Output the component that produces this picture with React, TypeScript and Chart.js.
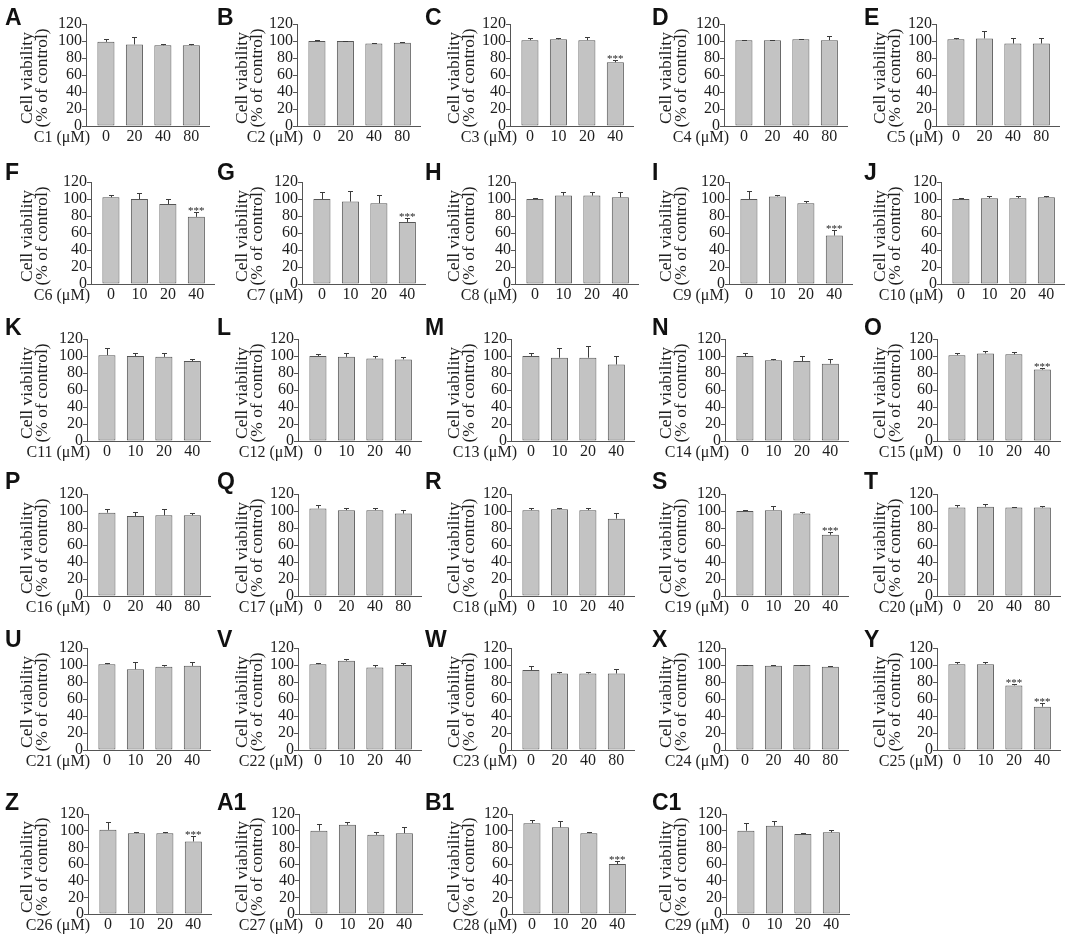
import React, { useEffect, useRef } from "react";
import { Chart, registerables } from "chart.js";

Chart.register(...registerables);

// ---------------- data ----------------
const panelLetters = ["A", "B", "C", "D", "E", "F", "G", "H", "I", "J", "K", "L", "M", "N", "O", "P", "Q", "R", "S", "T", "U", "V", "W", "X", "Y", "Z", "A1", "B1", "C1"];
const compoundNames = ["C1", "C2", "C3", "C4", "C5", "C6", "C7", "C8", "C9", "C10", "C11", "C12", "C13", "C14", "C15", "C16", "C17", "C18", "C19", "C20", "C21", "C22", "C23", "C24", "C25", "C26", "C27", "C28", "C29"];
const dosesA = ["0", "20", "40", "80"];
const dosesB = ["0", "10", "20", "40"];
const doseLabels = [
  dosesA, dosesA, dosesB, dosesA, dosesA,
  dosesB, dosesB, dosesB, dosesB, dosesB,
  dosesB, dosesB, dosesB, dosesB, dosesB,
  dosesA, dosesA, dosesB, dosesB, dosesA,
  dosesB, dosesB, dosesA, dosesA, dosesB,
  dosesB, dosesB, dosesB, dosesB,
];
const meanViability = [
  [99, 96, 95, 95],
  [100, 100, 97, 98],
  [101, 102, 101, 75],
  [101, 101, 102, 101],
  [102, 103, 97, 97],
  [102, 100, 94, 79],
  [100, 97, 95, 73],
  [100, 104, 104, 102],
  [100, 103, 95, 57],
  [100, 101, 101, 102],
  [101, 100, 99, 94],
  [100, 99, 97, 96],
  [100, 98, 98, 90],
  [100, 95, 94, 91],
  [101, 103, 102, 84],
  [98, 94, 95, 95],
  [103, 101, 101, 97],
  [101, 102, 101, 91],
  [100, 101, 97, 72],
  [104, 105, 104, 104],
  [101, 95, 98, 99],
  [101, 105, 97, 100],
  [94, 90, 90, 90],
  [100, 99, 100, 98],
  [101, 101, 76, 51],
  [101, 97, 97, 87],
  [100, 107, 95, 97],
  [109, 104, 97, 60],
  [100, 106, 96, 98],
];
const sdViability = [
  [3, 9, 2, 2],
  [0.6, 0.4, 0.6, 0.8],
  [3, 1, 4, 3],
  [0.6, 0.6, 0.3, 5],
  [1, 9, 7, 6],
  [3, 7, 6, 6],
  [8, 12, 10, 5],
  [1, 4, 4, 6],
  [9, 2, 3, 6],
  [1, 2, 2, 2],
  [9, 4, 5, 3],
  [2, 5, 3, 3],
  [3, 11, 14, 10],
  [3, 1, 6, 6],
  [3, 3, 3, 2],
  [4, 5, 7, 3],
  [4, 3, 3, 4],
  [2, 2, 3, 7],
  [1, 5, 2, 3],
  [3, 3, 1, 2],
  [1, 9, 2, 5],
  [1, 2, 3, 2],
  [5, 2, 2, 5],
  [0.5, 0.5, 0.5, 0.5],
  [2, 2, 1.5, 4],
  [9, 1, 1, 7],
  [8, 3, 3, 7],
  [4, 7, 2, 4],
  [9, 5, 1.5, 3],
];
const significance = [
  ["", "", "", ""], ["", "", "", ""], ["", "", "", "***"], ["", "", "", ""], ["", "", "", ""],
  ["", "", "", "***"], ["", "", "", "***"], ["", "", "", ""], ["", "", "", "***"], ["", "", "", ""],
  ["", "", "", ""], ["", "", "", ""], ["", "", "", ""], ["", "", "", ""], ["", "", "", "***"],
  ["", "", "", ""], ["", "", "", ""], ["", "", "", ""], ["", "", "", "***"], ["", "", "", ""],
  ["", "", "", ""], ["", "", "", ""], ["", "", "", ""], ["", "", "", ""], ["", "", "***", "***"],
  ["", "", "", "***"], ["", "", "", ""], ["", "", "", "***"], ["", "", "", ""],
];
const yTickValues = [0, 20, 40, 60, 80, 100, 120];
const yAxisTitle = ["Cell viability", "(% of control)"];
const doseUnit = "(μM)";

// ---------------- layout ----------------
const SERIF = '"Liberation Serif", "Times New Roman", serif';
const SANS = '"Liberation Sans", Arial, sans-serif';
const TEXT = "#1e1e1e";
const AXIS = "#555555";

const colAxisX = [86, 297, 510, 724, 936];
const rowShiftX = [0, 5, 1, 1, 1, 2];
const rowTopY = [24, 182, 339, 494, 648, 814];
const rowPlotH = [102, 102, 102, 102, 102, 100];
const colLetterX = [5, 217, 425, 652, 864];
const rowLetterTop = [8, 163, 318, 472, 630, 793];
const colTitleX = [27.5, 242.5, 454, 666, 880.5];
const colXTitleRight = [90, 303, 517, 729, 943];
const PLOT_W = 123;
const PAD_L = 100;
const PAD_T = 32;
const PAD_R = 8;
const PAD_B = 30;

function Panel({ idx }: { idx: number }) {
  const ref = useRef<HTMLCanvasElement | null>(null);
  const col = idx % 5;
  const row = Math.floor(idx / 5);
  const axisX = colAxisX[col] + rowShiftX[row];
  const plotH = rowPlotH[row];
  const left = axisX - PAD_L;
  const top = rowTopY[row] - PAD_T;
  const width = PAD_L + PLOT_W + PAD_R;
  const height = PAD_T + plotH + PAD_B;

  useEffect(() => {
    const canvas = ref.current;
    if (!canvas) return;
    const means = meanViability[idx];
    const sds = sdViability[idx];
    const stars = significance[idx];
    const labels = doseLabels[idx];

    const decor = {
      id: "decor",
      afterDatasetsDraw(chart: any) {
        const ctx = chart.ctx;
        const ys = chart.scales.y;
        const meta = chart.getDatasetMeta(0);
        ctx.save();
        ctx.strokeStyle = "#3c3c3c";
        ctx.lineWidth = 1;
        meta.data.forEach((bar: any, i: number) => {
          const yTop = Math.round(ys.getPixelForValue(means[i] + sds[i])) + 0.5;
          const x = Math.round(bar.x) + 0.5;
          ctx.beginPath();
          ctx.moveTo(x, bar.y);
          ctx.lineTo(x, yTop);
          ctx.moveTo(x - 2.5, yTop);
          ctx.lineTo(x + 2.5, yTop);
          ctx.stroke();
          if (stars[i]) {
            ctx.fillStyle = TEXT;
            ctx.font = `11px ${SERIF}`;
            ctx.textAlign = "center";
            ctx.textBaseline = "alphabetic";
            ctx.fillText(stars[i], bar.x, yTop + 1);
          }
        });
        ctx.restore();
      },
      afterDraw(chart: any) {
        const ctx = chart.ctx;
        const area = chart.chartArea;
        ctx.save();
        ctx.fillStyle = "#111111";
        ctx.font = `bold 23px ${SANS}`;
        ctx.textAlign = "left";
        ctx.textBaseline = "alphabetic";
        ctx.fillText(panelLetters[idx], colLetterX[col] - left, rowLetterTop[row] - top + 16.5);
        ctx.fillStyle = TEXT;
        ctx.font = `17.5px ${SERIF}`;
        ctx.textAlign = "center";
        ctx.textBaseline = "middle";
        const cy = (area.top + area.bottom) / 2 + 3;
        yAxisTitle.forEach((t, i) => {
          ctx.save();
          ctx.translate(colTitleX[col] + i * 15 - left, cy);
          ctx.rotate(-Math.PI / 2);
          ctx.fillText(t, 0, 0);
          ctx.restore();
        });
        ctx.font = `16px ${SERIF}`;
        ctx.textAlign = "right";
        ctx.textBaseline = "alphabetic";
        ctx.fillText(`${compoundNames[idx]} ${doseUnit}`, colXTitleRight[col] - left, area.bottom + 16);
        ctx.restore();
      },
    };

    const chart = new Chart(canvas, {
      type: "bar",
      data: {
        datasets: [
          {
            data: means.map((v, i) => ({ x: i, y: v })),
            backgroundColor: "#c3c3c3",
            borderColor: "#565656",
            borderWidth: 1,
            borderSkipped: false,
            barPercentage: 0.6,
            categoryPercentage: 1,
          },
        ],
      },
      options: {
        responsive: false,
        animation: false,
        devicePixelRatio: 1,
        events: [],
        layout: { padding: { top: PAD_T, left: 0, right: PAD_R, bottom: 0 } },
        plugins: { legend: { display: false }, tooltip: { enabled: false }, title: { display: false } },
        scales: {
          x: {
            type: "linear",
            offset: false,
            min: -0.7,
            max: 3.62,
            afterBuildTicks: (s: any) => {
              s.ticks = labels.map((_, i) => ({ value: i }));
            },
            afterFit: (s: any) => {
              s.height = PAD_B;
            },
            ticks: {
              callback: (v: any) => labels[v] ?? "",
              autoSkip: false,
              maxRotation: 0,
              minRotation: 0,
              padding: 1,
              color: TEXT,
              font: { family: SERIF, size: 16 },
            },
            grid: { display: true, offset: false, drawOnChartArea: false, drawTicks: false },
            border: { display: true, color: AXIS, width: 1 },
          },
          y: {
            min: 0,
            max: 120,
            afterBuildTicks: (s: any) => {
              s.ticks = yTickValues.map((v) => ({ value: v }));
            },
            afterFit: (s: any) => {
              s.width = PAD_L;
            },
            ticks: {
              autoSkip: false,
              padding: 0,
              color: TEXT,
              font: { family: SERIF, size: 16 },
            },
            grid: { display: true, drawOnChartArea: false, drawTicks: true, tickLength: 4, color: AXIS },
            border: { display: true, color: AXIS, width: 1 },
          },
        },
      } as any,
      plugins: [decor],
    } as any);
    return () => chart.destroy();
  }, [idx]);

  return (
    <canvas
      ref={ref}
      width={width}
      height={height}
      style={{ position: "absolute", left, top, width, height }}
    />
  );
}

export default function App() {
  return (
    <div style={{ position: "absolute", left: 0, top: 0, width: 1065, height: 935, background: "#ffffff", overflow: "hidden" }}>
      {panelLetters.map((_, i) => (
        <Panel key={i} idx={i} />
      ))}
    </div>
  );
}
